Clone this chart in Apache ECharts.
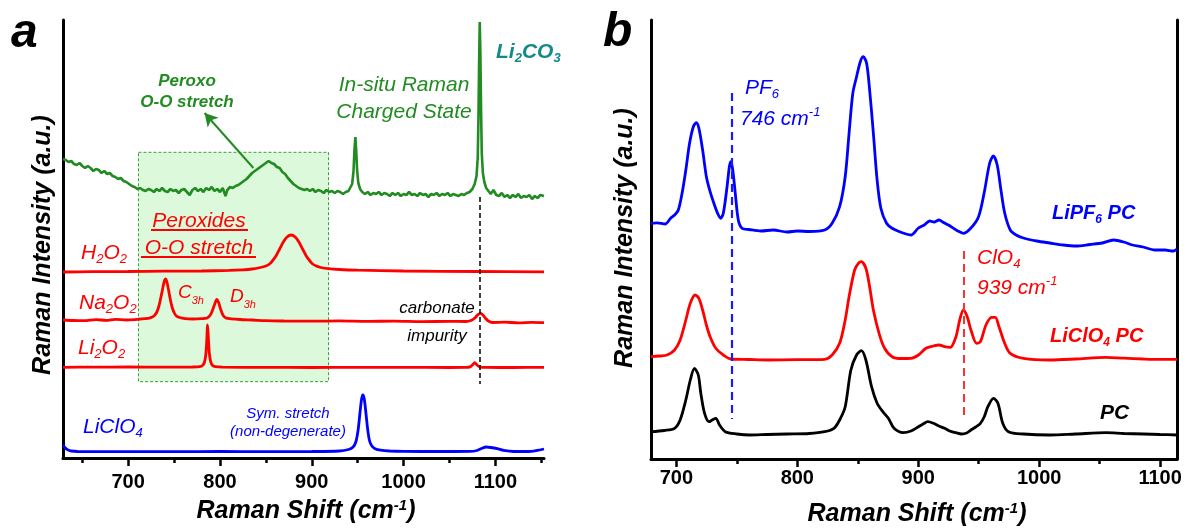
<!DOCTYPE html>
<html><head><meta charset="utf-8">
<script src="https://cdn.jsdelivr.net/npm/echarts@6/dist/echarts.min.js"></script>
<style>html,body{margin:0;padding:0;background:#fff}#c{width:1188px;height:530px}</style>
</head><body><div id="c"></div>
<script>
// ---------- Panel a data (Raman shift cm-1, intensity a.u. offset) ----------
const ticksA = [700, 800, 900, 1000, 1100];
const minorTicksA = [650, 750, 850, 950, 1050, 1150];
const ticksB = [700, 800, 900, 1000, 1100];
const minorTicksB = [750, 850, 950, 1050];

const insitu = [[629,299],[632,298],[635,296],[638,297],[641,294],[644,293],[647,295],[650,292],[653,290],[656,292],[659,290],[662,287],[665,289],[668,288],[671,285],[674,287],[677,284],[680,285],[683,282],[686,281],[689,279],[692,280],[695,277],[698,276],[701,274],[704,272],[707,271],[710,269],[713,270],[716,268],[719,267],[722,269],[725,268],[728,266],[731,269],[734,267],[737,270],[740,267],[743,266],[746,269],[749,267],[752,268],[755,265],[758,268],[761,269],[764,266],[767,263],[770,268],[773,270],[776,267],[779,269],[782,266],[785,270],[788,268],[791,271],[794,267],[797,269],[800,266],[803,270],[806,262],[808,268],[811,271],[814,270],[817,272],[820,273],[823,275],[826,277],[829,279],[832,282],[835,285],[838,287],[841,289],[844,291],[847,293],[850,295],[853,297],[856,295],[859,294],[862,291],[865,290],[868,286],[871,284],[874,280],[877,277],[880,274],[883,272],[886,270],[889,269],[892,268],[895,269],[898,267],[901,269],[904,266],[907,268],[910,267],[913,265],[916,268],[919,266],[922,267],[925,265],[928,267],[931,266],[934,264],[937,266],[940,267],[942,269],[944,274],[945.5,287],[946.5,308],[947.5,321],[948.4,308],[949.4,288],[950.7,275],[952.7,269],[955,266],[958,264],[961,266],[964,263],[967,265],[970,264],[973,266],[976,263],[979,265],[982,264],[985,262],[988,265],[991,263],[994,265],[997,262],[1000,264],[1003,263],[1006,266],[1009,263],[1012,264],[1015,262],[1018,265],[1021,263],[1024,264],[1027,261],[1030,264],[1033,263],[1036,265],[1039,262],[1042,264],[1045,263],[1048,265],[1051,262],[1054,264],[1057,263],[1060,262],[1063,264],[1066,263],[1069,265],[1072,266],[1075,269],[1077.5,274],[1079.5,282],[1080.8,300],[1081.6,340],[1082.3,395],[1083,436],[1083.7,405],[1084.4,350],[1085.2,305],[1086.4,285],[1088,276],[1090,270],[1092.5,267],[1095,264],[1098,268],[1101,263],[1104,262],[1107,265],[1110,261],[1113,263],[1116,260],[1119,263],[1122,261],[1125,264],[1128,260],[1131,262],[1134,261],[1137,263],[1140,259],[1143,262],[1146,260],[1149,263],[1151,261],[1153,262]];

const h2o2 = [[629,186],[660,186.3],[700,186.5],[740,186.8],[780,187],[810,187.6],[825,188.2],[835,189],[844,190.5],[850,192],[854,194],[857,197],[861,202],[865,209],[869,216],[873,221],[877.5,223],[882,221],[886,216],[890,209],[894,202],[898,197],[901,194],[905,192],[910,190.5],[918,189.3],[930,188.5],[950,187.8],[1000,187],[1080,186.5],[1153,186.2]];

const na2o2 = [[629,138],[640,137.5],[652,137.3],[665,138.4],[676,137.6],[686,138.7],[698,138],[710,138.7],[718,139.3],[724,140.2],[728,142],[731,145.5],[733.5,152],[735.5,160],[737.5,169],[739.3,176.5],[740.7,179],[742.2,176],[744,168],[745.8,159],[747.8,151],[750,145.5],[752.5,142],[756,140.5],[762,139.4],[770,139],[780,139.3],[786,140],[789.5,143],[792,148],[794.5,154.5],[796.5,158.7],[798.5,155.5],[801,148],[803.5,142.5],[806.5,140],[812,139.2],[822,138.5],[835,138],[850,137.3],[870,137],[900,136.8],[930,137.1],[960,136.6],[990,136.9],[1020,136.4],[1050,136.6],[1068,136.5],[1074,137.8],[1078,140.3],[1081,143.3],[1084,144.7],[1086.7,142.8],[1089.2,139.7],[1092,137.3],[1097,135.5],[1110,135.8],[1125,135.2],[1140,135.6],[1153,135.3]];

const li2o2 = [[629,90.7],[660,90.9],[700,91],[740,90.8],[770,91],[778,91.4],[781,92.5],[783,95.5],[784.5,103],[785.5,116],[786.5,133],[787.5,118],[788.5,104],[790,96],[792,92.5],[795,91.3],[803,90.9],[850,90.6],[900,90.5],[950,90.7],[1000,90.6],[1050,90.5],[1068,90.6],[1073,91.4],[1075.5,93.5],[1077.5,95.3],[1080,93],[1083,91.2],[1090,90.6],[1120,90.5],[1153,90.6]];

const liclo4 = [[629,13],[631,10.5],[634,8.2],[638,7],[645,6.5],[700,6.3],[750,6.4],[800,6.5],[850,6.4],[900,6.5],[930,7],[940,8.5],[945,11],[948,16],[950.5,28],[952.5,45],[954.3,59],[955.7,63],[957.2,59],[959,45],[961,28],[963,17],[965.5,12],[969,9.3],[975,7.8],[985,7],[1000,6.6],[1040,6.5],[1072,6.6],[1080,7.5],[1085,9.5],[1090,11],[1095,10.5],[1102,9.3],[1109,7.6],[1120,6.5],[1135,6.5],[1145,7.5],[1153,9]];

// ---------- Panel b data ----------
const lipf6pc = [[679,235.7],[684,236.2],[690.7,235],[695.4,241],[698.5,244],[701.6,249],[704.7,265.7],[707.8,289],[710.9,315.7],[714,332.3],[716.5,336.3],[718.6,330.7],[721.7,309],[724.8,282.3],[727.9,267.3],[731,255.7],[734.1,245.7],[736.6,240.7],[738.8,245.7],[741.9,272.3],[743.8,292.3],[745,297.3],[746.6,289],[748.7,265.7],[751.2,239],[754.3,230.7],[760,229.5],[770,228],[780,229],[791.6,227],[800,228],[810,227.5],[822.6,229],[828.8,235.7],[835,252.3],[839.6,282.3],[842.8,325.7],[845.9,365.7],[849,382.3],[852.1,397.3],[854.5,402.3],[857.3,395.7],[859.8,369],[862.9,325.7],[866,279],[869.1,250.7],[873.8,235.7],[878.4,230.7],[884.6,227.3],[890,225],[894,224],[900.2,231],[905,234],[909.5,238],[913,237],[917.2,239],[921,236.5],[925,234],[932.7,228],[937.4,225.7],[943.6,231],[949.8,242],[954.5,266],[959.1,296],[962.2,303],[965.3,294],[968.4,269],[971.5,246],[976.1,229],[981,224],[987,221],[998,218],[1008.7,216],[1020,214],[1030.5,213],[1042,214.5],[1052.2,216],[1061.5,219],[1070,217],[1077.1,214],[1086,212],[1095.7,209],[1104,209],[1111.1,208],[1114,210]];

const liclo4pc = [[679,102.3],[686,103],[692.3,104],[698.5,109],[703.1,119],[707.8,139],[711.5,155.7],[715.5,164],[718.6,160.7],[721.7,149],[724.8,134],[727.9,122.3],[732.6,110.7],[738.8,104],[745,100],[760,99.5],[776,99],[800,99.3],[822.6,99.7],[828.8,104],[835,115.7],[839.6,139],[842.8,162.3],[847.4,189],[850.5,195.7],[853,197.3],[856.7,190.7],[859.8,172.3],[862.9,149],[867.6,125.7],[872.2,110.7],[878.4,102.3],[886,100.5],[894,100.7],[900.2,104],[906.4,110.7],[912.6,113],[917.2,114],[921.9,112.3],[926.5,111.7],[931.2,122.3],[934.3,139],[937.4,149],[940.5,142.3],[943.6,129],[948.3,115.7],[951.4,117.3],[956,134],[960.6,141.7],[963.7,141.7],[966.8,132.3],[971.5,115.7],[976.1,105.7],[987,100.7],[1008.7,99],[1030,100],[1055.3,101.7],[1070,100.8],[1086.3,100],[1100,99.6],[1114,99.7]];

const pc = [[679,27.3],[690,28.5],[698.5,30.7],[703.1,39],[707.8,59],[711.5,79],[714.9,90.7],[718.1,84],[720.2,65.7],[723.3,45.7],[727.1,37.3],[729.6,39],[732.6,40.7],[735.7,34],[740.4,27.3],[750,25],[760.5,24],[775,24.5],[791.6,25],[810,25.5],[822.6,27.3],[830.3,30.7],[835,39],[839.6,52.3],[844.3,89],[849,104],[853,108.3],[856.7,99],[861.4,72.3],[866,55.7],[870.7,47.3],[875.3,40.7],[880,30.7],[887.7,26.3],[894,28],[900.2,32.3],[904,35],[907.9,37.3],[912.6,35.7],[917,33],[921.9,30.7],[926,28],[931.2,26.3],[935.8,25],[940,26],[943.6,29],[947.5,32],[951.4,35.7],[954.5,42],[957.6,52.3],[962.2,60.7],[965.9,55.7],[969.9,35.7],[974.6,27.3],[987,25],[1008.7,24],[1030,25],[1055.3,26.3],[1070,25.5],[1086.3,25],[1100,24.5],[1114,24]];

// annotation anchors (data coordinates)
const boxA = [[711.2, 305.7], [918.3, 76.3]];
const arrowA = [[836.4, 290], [783.2, 345]];
const carbonateLine = [[1083.2, 261], [1083.2, 74]];
const pf6Line = [[745.6, 366], [745.6, 40]];
const clo4Line = [[937.4, 208], [937.4, 44]];

// ---------- styling ----------
const FONT = 'Liberation Sans';
const GREEN = '#228b22', RED = '#ff0000', BLUE = '#0000ff', TEAL = '#138a8a';

function st(size, color, weight, extra) {
  return Object.assign({fontSize: size, fill: color, fontWeight: weight || 'normal', fontStyle: 'italic', fontFamily: FONT, lineHeight: 26}, extra || {});
}
function richSet(size, color, weight, subSize) {
  return {
    m: st(size, color, weight),
    s: st(subSize, color, weight, {lineHeight: 8, verticalAlign: 'bottom'}),
    p: st(subSize, color, weight, {lineHeight: 12, verticalAlign: 'top'})
  };
}
function txt(x, y, text, rich, align, extra) {
  return Object.assign({
    type: 'text', x: x, y: y, z: 100, silent: true,
    style: {text: text, rich: rich, align: align || 'left', textAlign: align || 'left', verticalAlign: 'middle', textVerticalAlign: 'middle', fontFamily: FONT}
  }, extra || {});
}

const rGreenB = richSet(17, GREEN, 'bold', 11);
const rGreen = richSet(21, GREEN, 'normal', 13);
const rTeal = richSet(21, TEAL, 'bold', 13);
const rRed = richSet(21, RED, 'normal', 13);
const rRedS = richSet(19, RED, 'normal', 11);
const rRedB = richSet(20, RED, 'bold', 12);
const rBlack = richSet(17, '#000', 'normal', 11);
const rBlackB = richSet(21, '#000', 'bold', 13);
const rBlue = richSet(21, BLUE, 'normal', 13);
const rBlueS = richSet(15, BLUE, 'normal', 10);
const rBlueB = richSet(20, BLUE, 'bold', 12);
const rTitle = richSet(25, '#000', 'bold', 15);
const rLetter = {m: st(48, '#000', 'bold', {lineHeight: 50})};

const graphics = [
  txt(11, 34, '{m|a}', rLetter),
  txt(603, 33, '{m|b}', rLetter),
  txt(187, 81, '{m|Peroxo}', rGreenB, 'center'),
  txt(187, 102, '{m|O-O stretch}', rGreenB, 'center'),
  txt(404, 85, '{m|In-situ Raman}', rGreen, 'center'),
  txt(404, 112, '{m|Charged State}', rGreen, 'center'),
  txt(496, 52, '{m|Li}{s|2}{m|CO}{s|3}', rTeal),
  txt(199, 221, '{m|Peroxides}', rRed, 'center'),
  txt(199, 248, '{m|O-O stretch}', rRed, 'center'),
  {type: 'line', z: 100, silent: true, shape: {x1: 151, y1: 230, x2: 248, y2: 230}, style: {stroke: RED, lineWidth: 2}},
  {type: 'line', z: 100, silent: true, shape: {x1: 141, y1: 257, x2: 256, y2: 257}, style: {stroke: RED, lineWidth: 2}},
  txt(81, 253, '{m|H}{s|2}{m|O}{s|2}', rRed),
  txt(79, 303, '{m|Na}{s|2}{m|O}{s|2}', rRed),
  txt(178, 293, '{m|C}{s|3h}', rRedS),
  txt(230, 297, '{m|D}{s|3h}', rRedS),
  txt(437, 308, '{m|carbonate}', rBlack, 'center'),
  txt(437, 336, '{m|impurity}', rBlack, 'center'),
  txt(78, 348, '{m|Li}{s|2}{m|O}{s|2}', rRed),
  txt(83, 427, '{m|LiClO}{s|4}', rBlue),
  txt(288, 414, '{m|Sym. stretch}', rBlueS, 'center'),
  txt(288, 432, '{m|(non-degenerate)}', rBlueS, 'center'),
  txt(745, 88, '{m|PF}{s|6}', rBlue),
  txt(740, 119, '{m|746 cm}{p|-1}', rBlue),
  txt(977, 258, '{m|ClO}{s|4}', rRed),
  txt(977, 288, '{m|939 cm}{p|-1}', rRed),
  txt(1052, 213, '{m|LiPF}{s|6}{m| PC}', rBlueB),
  txt(1050, 336, '{m|LiClO}{s|4}{m| PC}', rRedB),
  txt(1100, 413, '{m|PC}', rBlackB),
  txt(306, 511, '{m|Raman Shift (cm}{p|-1}{m|)}', rTitle, 'center'),
  txt(917, 514, '{m|Raman Shift (cm}{p|-1}{m|)}', rTitle, 'center'),
  txt(43, 245, '{m|Raman Intensity (a.u.)}', rTitle, 'center', {rotation: Math.PI / 2}),
  txt(625, 238, '{m|Raman Intensity (a.u.)}', rTitle, 'center', {rotation: Math.PI / 2})
];

function xMain(grid, min, max, ticks, margin) {
  return {
    type: 'value', gridIndex: grid, min: min, max: max, position: 'bottom',
    axisLine: {show: true, onZero: false, lineStyle: {color: '#000', width: 3}},
    axisTick: {show: true, customValues: ticks, length: 8, lineStyle: {color: '#000', width: 2.5}},
    axisLabel: {show: true, customValues: ticks, margin: margin, color: '#000', fontSize: 20, fontWeight: 'bold', fontFamily: FONT,
      formatter: function (v) { return String(v); }},
    splitLine: {show: false}
  };
}
function xMinor(grid, min, max, ticks) {
  return {
    type: 'value', gridIndex: grid, min: min, max: max, position: 'bottom',
    axisLine: {show: false, onZero: false},
    axisTick: {show: true, customValues: ticks, length: 5, lineStyle: {color: '#000', width: 2.5}},
    axisLabel: {show: false}, splitLine: {show: false}
  };
}
function yAx(grid, max, pos) {
  return {
    type: 'value', gridIndex: grid, min: 0, max: max, position: pos,
    axisLine: {show: true, onZero: false, lineStyle: {color: '#000', width: 3}},
    axisTick: {show: false}, axisLabel: {show: false}, splitLine: {show: false}
  };
}
function line(data, color, xi, yi, smooth, extra) {
  return Object.assign({
    type: 'line', data: data, xAxisIndex: xi, yAxisIndex: yi, showSymbol: false, symbol: 'none',
    smooth: smooth, lineStyle: {color: color, width: 2.8}, itemStyle: {color: color},
    silent: true, animation: false, z: 3
  }, extra || {});
}
function mline(pts, color, width, type, symbols, size) {
  return {
    silent: true, animation: false, symbol: symbols, symbolSize: size || 10,
    label: {show: false}, emphasis: {disabled: true},
    lineStyle: {color: color, width: width, type: type},
    data: [[{coord: pts[0]}, {coord: pts[1]}]]
  };
}

const option = {
  animation: false,
  backgroundColor: '#fff',
  grid: [
    {left: 63, top: 20, width: 481, height: 438},
    {left: 651, top: 20, width: 526, height: 439}
  ],
  xAxis: [
    xMain(0, 629, 1153, ticksA, 14),
    xMinor(0, 629, 1153, minorTicksA),
    xMain(1, 679, 1114, ticksB, 9),
    xMinor(1, 679, 1114, minorTicksB)
  ],
  yAxis: [
    yAx(0, 438, 'left'),
    yAx(1, 439, 'left'),
    yAx(1, 439, 'right')
  ],
  series: [
    line(insitu, GREEN, 0, 0, false, {
      lineStyle: {color: GREEN, width: 2.6},
      markArea: {silent: true, animation: false, z: 1,
        itemStyle: {color: '#dcf9dc', borderColor: '#3a9a3a', borderWidth: 1, borderType: [3, 2]},
        label: {show: false},
        data: [[{coord: boxA[0]}, {coord: boxA[1]}]]},
      markLine: mline(arrowA, GREEN, 2, 'solid', ['none', 'arrow'], [11, 13])
    }),
    line(h2o2, RED, 0, 0, 0.3),
    line(na2o2, RED, 0, 0, 0.3, {markLine: mline(carbonateLine, '#000', 1.5, [5, 3], ['none', 'none'])}),
    line(li2o2, RED, 0, 0, 0.3),
    line(liclo4, BLUE, 0, 0, 0.3),
    line(lipf6pc, BLUE, 2, 1, 0.3, {markLine: mline(pf6Line, '#1a1aff', 2.2, [8, 5], ['none', 'none'])}),
    line(liclo4pc, RED, 2, 1, 0.3, {markLine: mline(clo4Line, '#ff3030', 2, [8, 5], ['none', 'none'])}),
    line(pc, '#000', 2, 1, 0.3)
  ],
  graphic: graphics
};

const chart = echarts.init(document.getElementById('c'), null, {renderer: 'canvas'});
chart.setOption(option);
</script></body></html>
